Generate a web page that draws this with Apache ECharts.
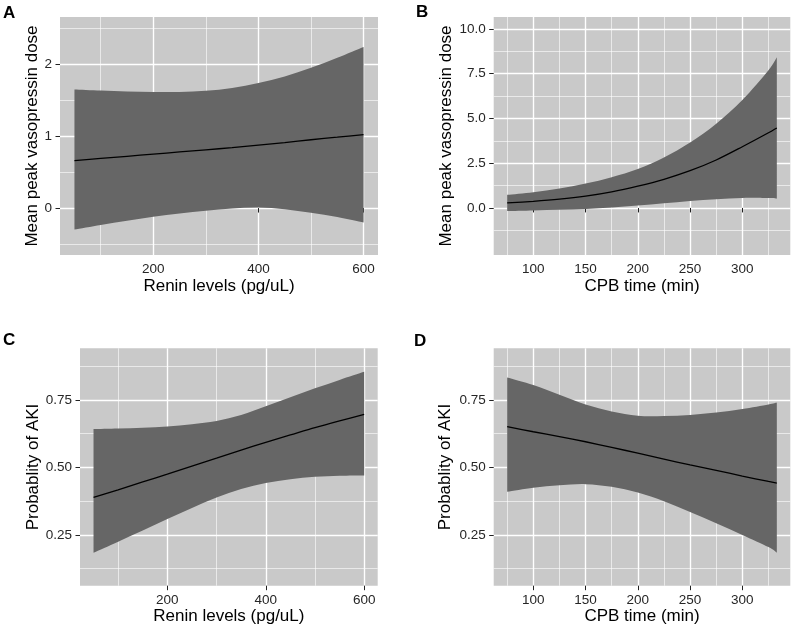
<!DOCTYPE html>
<html><head><meta charset="utf-8">
<script src="https://cdn.jsdelivr.net/npm/echarts@6/dist/echarts.min.js"></script>
<style>html,body{margin:0;padding:0;background:#fff}#c{width:792px;height:630px}</style>
</head><body><div id="c"></div><script>
// ---- data ----
const reninX = [50,100,150,200,250,300,350,400,450,500,550,600];
const cpbX   = [75,100,125,150,175,200,225,250,275,300,325,333];

const doseReninFit = [0.66,0.69,0.72,0.75,0.78,0.81,0.84,0.875,0.91,0.95,0.985,1.02];
const doseReninUp  = [1.65,1.635,1.62,1.615,1.615,1.63,1.67,1.74,1.83,1.95,2.09,2.24];
const doseReninLow = [-0.3,-0.235,-0.175,-0.12,-0.075,-0.037,-0.005,0.008,-0.015,-0.065,-0.125,-0.2];

const doseCpbFit = [0.28,0.37,0.49,0.66,0.9,1.22,1.6,2.08,2.68,3.42,4.2,4.47];
const doseCpbUp  = [0.73,0.88,1.08,1.36,1.72,2.18,2.82,3.65,4.7,6.03,7.7,8.42];
const doseCpbLow = [-0.17,-0.14,-0.1,-0.06,0.02,0.13,0.26,0.39,0.49,0.56,0.55,0.52];

const akiReninFit = [0.389,0.417,0.446,0.475,0.505,0.534,0.564,0.593,0.62,0.647,0.672,0.696];
const akiReninUp  = [0.642,0.644,0.647,0.651,0.66,0.672,0.694,0.726,0.76,0.793,0.824,0.854];
const akiReninLow = [0.184,0.225,0.266,0.309,0.35,0.389,0.42,0.442,0.456,0.465,0.469,0.47];

const akiCpbFit = [0.651,0.632,0.614,0.595,0.574,0.553,0.531,0.509,0.489,0.468,0.448,0.442];
const akiCpbUp  = [0.833,0.805,0.769,0.733,0.707,0.691,0.69,0.694,0.703,0.716,0.733,0.74];
const akiCpbLow = [0.41,0.425,0.434,0.438,0.428,0.407,0.375,0.335,0.293,0.25,0.205,0.184];

const reninTicks = [200,400,600], reninMinor = [100,300,500];
const cpbTicks = [100,150,200,250,300], cpbMinor = [75,125,175,225,275,325];
const doseTicksA = [0,1,2], doseMinorA = [-0.5,0.5,1.5,2.5];
const doseTicksB = [0,2.5,5,7.5,10], doseMinorB = [-1.25,1.25,3.75,6.25,8.75];
const probTicks = [0.25,0.5,0.75], probMinor = [0.125,0.375,0.625,0.875];

const tags = ['A','B','C','D'];
const xTitleRenin = 'Renin levels (pg/uL)', xTitleCpb = 'CPB time (min)';
const yTitleDose = 'Mean peak vasopressin dose', yTitleAki = 'Probablity of AKI';

// ---- build ----
const FONT = 'Liberation Sans, Arial, sans-serif';
const chart = echarts.init(document.getElementById('c'));
const grids = [], xAxes = [], yAxes = [], series = [], titles = [];

function pairs(xs, ys){ return xs.map((x,i)=>[x, ys[i]]); }

// Catmull-Rom spline through pixel points as SVG path commands
function splinePath(pts, startCmd){
  let d = startCmd + pts[0][0].toFixed(2) + ' ' + pts[0][1].toFixed(2);
  const n = pts.length;
  for (let i = 0; i < n-1; i++){
    const p0 = pts[Math.max(i-1,0)], p1 = pts[i], p2 = pts[i+1], p3 = pts[Math.min(i+2,n-1)];
    const c1 = [p1[0] + (p2[0]-p0[0])/6, p1[1] + (p2[1]-p0[1])/6];
    const c2 = [p2[0] - (p3[0]-p1[0])/6, p2[1] - (p3[1]-p1[1])/6];
    d += ' C' + c1[0].toFixed(2)+' '+c1[1].toFixed(2)+' '+c2[0].toFixed(2)+' '+c2[1].toFixed(2)+' '+p2[0].toFixed(2)+' '+p2[1].toFixed(2);
  }
  return d;
}

function panel(i, g, xr, yr, xt, xm, yt, ym, xName, yName, yGap, xs, fit, low, up, dec, tagPos){
  grids.push(Object.assign({show:true, backgroundColor:'#c9c9c9', borderWidth:0}, g));
  const major = {show:true, lineStyle:{color:'#ffffff', width:1.4}};
  const minor = {show:true, lineStyle:{color:'#ffffff', width:0.6}};
  xAxes.push({type:'value', gridIndex:i, min:xr[0], max:xr[1], position:'bottom',
    axisLine:{show:false}, axisTick:{show:true, length:4.5, lineStyle:{color:'#222', width:1}, customValues:xt},
    axisLabel:{customValues:xt, color:'#262626', fontSize:13.5, fontFamily:FONT, margin:7.5},
    splitLine:major, name:xName, nameLocation:'middle', nameGap:21,
    nameTextStyle:{fontSize:17, color:'#000', fontFamily:FONT}});
  xAxes.push({type:'value', gridIndex:i, min:xr[0], max:xr[1], position:'top',
    axisLine:{show:false}, axisTick:{show:false, customValues:xm}, axisLabel:{show:false},
    splitLine:minor});
  yAxes.push({type:'value', gridIndex:i, min:yr[0], max:yr[1], position:'left',
    axisLine:{show:false}, axisTick:{show:true, length:4.5, lineStyle:{color:'#222', width:1}, customValues:yt},
    axisLabel:{customValues:yt, color:'#262626', fontSize:13.5, fontFamily:FONT, margin:8,
      formatter:v=>dec===0?String(Math.round(v)):v.toFixed(dec)},
    splitLine:major, name:yName, nameLocation:'middle', nameGap:yGap,
    nameTextStyle:{fontSize:17, color:'#000', fontFamily:FONT}});
  yAxes.push({type:'value', gridIndex:i, min:yr[0], max:yr[1], position:'right',
    axisLine:{show:false}, axisTick:{show:false, customValues:ym}, axisLabel:{show:false},
    splitLine:minor});
  const xi = i*2, yi = i*2;
  series.push({type:'custom', xAxisIndex:xi, yAxisIndex:yi, silent:true, z:2,
    data:[[xs[0], fit[0]]],
    renderItem:function(params, api){
      const upPts = xs.map((x,k)=>api.coord([x, up[k]]));
      const lowPts = xs.map((x,k)=>api.coord([x, low[k]])).reverse();
      const d = splinePath(upPts, 'M') + ' L' + lowPts[0][0].toFixed(2)+' '+lowPts[0][1].toFixed(2)
        + splinePath(lowPts, ' L').replace(/^ L[^C]*/, '') + ' Z';
      return {type:'path', shape:{pathData:d}, style:{fill:'#666666', stroke:null}};
    }});
  series.push({type:'line', xAxisIndex:xi, yAxisIndex:yi, data:pairs(xs, fit), symbol:'none',
    smooth:0.3, lineStyle:{color:'#000', width:1.3}, z:5, silent:true});
  titles.push({text:tags[i], left:tagPos[0], top:tagPos[1], padding:0,
    textStyle:{fontSize:17, fontWeight:'bold', color:'#000', fontFamily:FONT}});
}

panel(0, {left:60, top:17, width:318, height:238}, [22.5,627.5], [-0.653,2.657],
  reninTicks, reninMinor, doseTicksA, doseMinorA, xTitleRenin, yTitleDose, 18,
  reninX, doseReninFit, doseReninLow, doseReninUp, 0, [3,5]);
panel(1, {left:493.7, top:17, width:296.6, height:238}, [62.1,345.9], [-2.63,10.67],
  cpbTicks, cpbMinor, doseTicksB, doseMinorB, xTitleCpb, yTitleDose, 39,
  cpbX, doseCpbFit, doseCpbLow, doseCpbUp, 1, [416,4]);
panel(2, {left:80, top:348.3, width:297.7, height:237.4}, [22.5,627.5], [0.062,0.941],
  reninTicks, reninMinor, probTicks, probMinor, xTitleRenin, yTitleAki, 38,
  reninX, akiReninFit, akiReninLow, akiReninUp, 2, [3,332]);
panel(3, {left:493.7, top:348.3, width:296.6, height:237.4}, [62.1,345.9], [0.062,0.941],
  cpbTicks, cpbMinor, probTicks, probMinor, xTitleCpb, yTitleAki, 40,
  cpbX, akiCpbFit, akiCpbLow, akiCpbUp, 2, [414,333]);

chart.setOption({animation:false, backgroundColor:'#fff', title:titles, grid:grids,
  xAxis:xAxes, yAxis:yAxes, series:series});
</script></body></html>
